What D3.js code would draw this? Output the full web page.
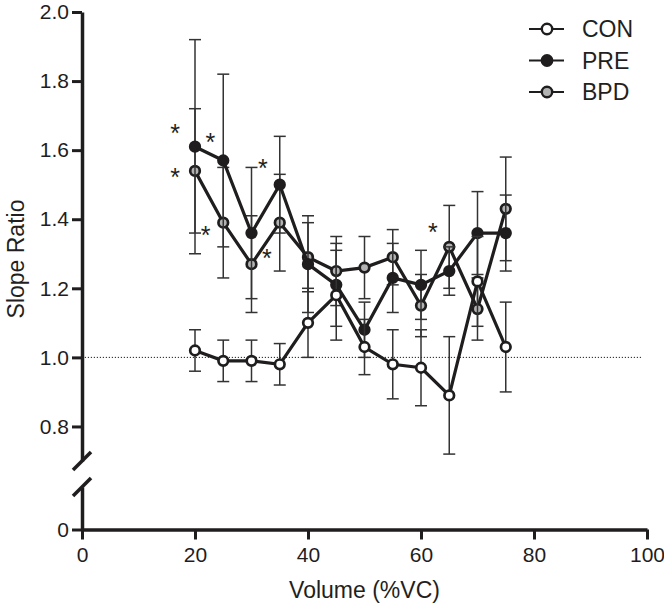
<!DOCTYPE html>
<html>
<head>
<meta charset="utf-8">
<script src="https://cdn.jsdelivr.net/npm/d3@7"></script>
<style>
  body { margin: 0; background: #fff; }
  svg text { font-family: "Liberation Sans", Arial, Helvetica, sans-serif; fill: #231f20; }
</style>
</head>
<body>
<svg id="chart" width="664" height="607"></svg>
<script>
// volumes (%VC)
const volumes = [20, 25, 30, 35, 40, 45, 50, 55, 60, 65, 70, 75];

const conMean = [1.02, 0.99, 0.99, 0.98, 1.10, 1.18, 1.03, 0.98, 0.97, 0.89, 1.22, 1.03];
const conErr  = [0.06, 0.06, 0.06, 0.06, 0.10, 0.13, 0.08, 0.10, 0.11, 0.17, 0.13, 0.13];
const preMean = [1.61, 1.57, 1.36, 1.50, 1.27, 1.21, 1.08, 1.23, 1.21, 1.25, 1.36, 1.36];
const preErr  = [0.31, 0.25, 0.19, 0.14, 0.14, 0.12, 0.08, 0.10, 0.10, 0.07, 0.12, 0.11];
const bpdMean = [1.54, 1.39, 1.27, 1.39, 1.29, 1.25, 1.26, 1.29, 1.15, 1.32, 1.14, 1.43];
const bpdErr  = [0.18, 0.16, 0.14, 0.14, 0.10, 0.10, 0.09, 0.08, 0.09, 0.12, 0.09, 0.15];

const seriesNames = ["CON", "PRE", "BPD"];
const xTicks = [0, 20, 40, 60, 80, 100];
const yTicks = [0.8, 1.0, 1.2, 1.4, 1.6, 1.8, 2.0];
const refLine = 1.0;

// significance marks: [volume, slope ratio]
const stars = [[16.5, 1.664], [22.7, 1.638], [16.5, 1.537], [21.9, 1.369],
               [32.0, 1.563], [32.7, 1.302], [62.1, 1.377]];

const svg = d3.select("#chart");
const ink = "#1f1d1e";

const x = d3.scaleLinear().domain([0, 100]).range([82, 647]);
const yTop = d3.scaleLinear().domain([0.7, 2.0]).range([461, 12]);
const yBot = d3.scaleLinear().domain([0, 0.123]).range([529.5, 487]);

const fills = { CON: "#ffffff", PRE: "#1f1d1e", BPD: "#b3b3b3" };
const data = {
    CON: volumes.map((v, i) => ({ v, m: conMean[i], e: conErr[i] })),
    PRE: volumes.map((v, i) => ({ v, m: preMean[i], e: preErr[i] })),
    BPD: volumes.map((v, i) => ({ v, m: bpdMean[i], e: bpdErr[i] }))
};

// dotted reference line
svg.append("line")
    .attr("x1", x(0.5)).attr("x2", x(99))
    .attr("y1", yTop(refLine)).attr("y2", yTop(refLine))
    .attr("stroke", ink).attr("stroke-width", 1)
    .attr("stroke-dasharray", "1.2,1.8");

// axes
function styleAxis(g, fontSize) {
    g.select(".domain").attr("stroke", ink).attr("stroke-width", 3.5);
    g.selectAll(".tick line").attr("stroke", ink).attr("stroke-width", 3);
    g.selectAll(".tick text").attr("font-size", fontSize).style("fill", ink);
    g.attr("font-family", null);
}

svg.append("g")
    .attr("transform", `translate(${x(0)},0)`)
    .call(d3.axisLeft(yTop).tickValues(yTicks).tickFormat(d3.format(".1f"))
        .tickSize(10).tickSizeOuter(0).tickPadding(3))
    .call(g => styleAxis(g, 21));

svg.append("g")
    .attr("transform", `translate(${x(0)},0)`)
    .call(d3.axisLeft(yBot).tickValues([0]).tickFormat(d => "0")
        .tickSize(10).tickSizeOuter(0).tickPadding(3))
    .call(g => styleAxis(g, 21));

svg.append("g")
    .attr("transform", `translate(0,${yBot(0)})`)
    .call(d3.axisBottom(x).tickValues(xTicks).tickSize(10).tickSizeOuter(0).tickPadding(8))
    .call(g => styleAxis(g, 21));

// break marks
[yTop(0.7), yBot.range()[1]].forEach(yy => {
    svg.append("line")
        .attr("x1", x(0) - 9).attr("y1", yy + 9)
        .attr("x2", x(0) + 9).attr("y2", yy - 9)
        .attr("stroke", ink).attr("stroke-width", 3.5);
});

// axis titles
svg.append("text")
    .attr("transform", "translate(24,259) rotate(-90)")
    .attr("text-anchor", "middle")
    .attr("font-size", 23)
    .text("Slope Ratio");

svg.append("text")
    .attr("x", (x(0) + x(100)) / 2).attr("y", 598)
    .attr("text-anchor", "middle")
    .attr("font-size", 23)
    .text("Volume (%VC)");

// series: drawn so that CON sits on top
const line = d3.line().x(d => x(d.v)).y(d => yTop(d.m));
["BPD", "PRE", "CON"].forEach(name => {
    const pts = data[name];
    const g = svg.append("g");
    const eb = g.selectAll(".eb").data(pts).enter().append("g")
        .attr("stroke", "#333").attr("stroke-width", 1.5);
    eb.append("line")
        .attr("x1", d => x(d.v)).attr("x2", d => x(d.v))
        .attr("y1", d => yTop(d.m + d.e)).attr("y2", d => yTop(d.m - d.e));
    [1, -1].forEach(s => {
        eb.append("line")
            .attr("x1", d => x(d.v) - 6).attr("x2", d => x(d.v) + 6)
            .attr("y1", d => yTop(d.m + s * d.e)).attr("y2", d => yTop(d.m + s * d.e));
    });
    g.append("path").datum(pts)
        .attr("d", line).attr("fill", "none")
        .attr("stroke", ink).attr("stroke-width", 3.2);
    g.selectAll("circle").data(pts).enter().append("circle")
        .attr("cx", d => x(d.v)).attr("cy", d => yTop(d.m))
        .attr("r", 4.8)
        .attr("fill", fills[name])
        .attr("stroke", ink).attr("stroke-width", 2.7);
});

// asterisks
svg.selectAll(".star").data(stars).enter().append("text")
    .attr("class", "star")
    .attr("x", d => x(d[0])).attr("y", d => yTop(d[1]) + 14)
    .attr("text-anchor", "middle")
    .attr("font-size", 25)
    .text("*");

// legend
const legend = svg.append("g");
seriesNames.forEach((name, i) => {
    const yy = 29 + i * 31.5;
    legend.append("line")
        .attr("x1", 529).attr("x2", 564).attr("y1", yy).attr("y2", yy)
        .attr("stroke", ink).attr("stroke-width", 2.2);
    legend.append("circle")
        .attr("cx", 547).attr("cy", yy).attr("r", 5.2)
        .attr("fill", fills[name]).attr("stroke", ink).attr("stroke-width", 2.4);
    legend.append("text")
        .attr("x", 582).attr("y", yy).attr("dy", "0.36em")
        .attr("font-size", 23)
        .text(name);
});
</script>
</body>
</html>
